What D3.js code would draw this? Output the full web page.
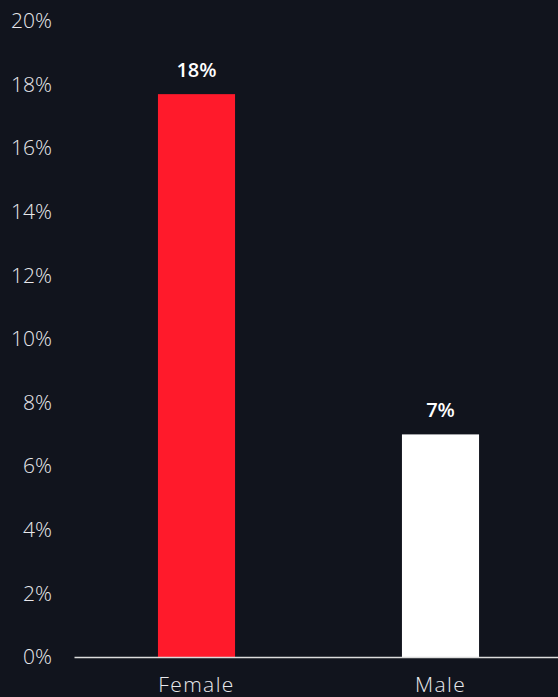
<!DOCTYPE html>
<html>
<head>
<meta charset="utf-8">
<script src="https://cdn.jsdelivr.net/npm/d3@7"></script>
<style>
  html, body { margin: 0; padding: 0; background: #11141d; }
  svg { display: block; }
</style>
</head>
<body>
<svg id="chart" width="558" height="697"></svg>
<script>
// Share of respondents by gender (%)
const categories = ["Female", "Male"];
const values = [17.7, 7.0];
const barColors = ["#ff1a2b", "#ffffff"];
const yTicks = [0, 2, 4, 6, 8, 10, 12, 14, 16, 18, 20];

const W = 558, H = 697;
const margin = { left: 74.5, top: 21, bottom: 40 };
const svg = d3.select("#chart");
const font = "'Open Sans', Inter, sans-serif";

const x = d3.scaleBand()
  .domain(categories)
  .range([margin.left, margin.left + 488])
  .paddingInner(0.684)
  .paddingOuter(0.342);

const y = d3.scaleLinear()
  .domain([0, 20])
  .range([657, margin.top]);

// y tick labels (no axis line)
const yAxis = d3.axisLeft(y)
  .tickValues(yTicks)
  .tickFormat(d => d + "%")
  .tickSize(0)
  .tickPadding(0);
const gy = svg.append("g")
  .attr("transform", "translate(52,0)")
  .call(yAxis);
gy.select(".domain").remove();
gy.selectAll("text")
  .attr("fill", "#e8e8ec")
  .attr("font-family", font)
  .attr("font-weight", 300)
  .attr("font-size", 21);

// bars
svg.append("g").selectAll("rect")
  .data(categories)
  .join("rect")
  .attr("x", d => x(d))
  .attr("width", x.bandwidth())
  .attr("y", (d, i) => y(values[i]))
  .attr("height", (d, i) => y(0) - y(values[i]))
  .attr("fill", (d, i) => barColors[i]);

// value labels
svg.append("g").selectAll("text")
  .data(categories)
  .join("text")
  .attr("x", d => x(d) + x.bandwidth() / 2)
  .attr("y", (d, i) => y(values[i]) - 17)
  .attr("text-anchor", "middle")
  .attr("fill", "#ffffff")
  .attr("font-family", font)
  .attr("font-weight", 600)
  .attr("font-size", 20)
  .text((d, i) => d3.format(".0f")(values[i]) + "%");

// baseline
svg.append("line")
  .attr("x1", margin.left).attr("x2", W)
  .attr("y1", y(0) + 0.5).attr("y2", y(0) + 0.5)
  .attr("stroke", "#dcdcdc")
  .attr("stroke-width", 1.5);

// category labels
const xAxis = d3.axisBottom(x).tickSize(0).tickPadding(0);
const gx = svg.append("g")
  .attr("transform", `translate(0,${y(0)})`)
  .call(xAxis);
gx.select(".domain").remove();
gx.selectAll("text")
  .attr("dy", null)
  .attr("y", 35)
  .attr("fill", "#e8e8ec")
  .attr("font-family", font)
  .attr("font-weight", 300)
  .attr("font-size", 21)
  .attr("letter-spacing", 1.4);
</script>
</body>
</html>
